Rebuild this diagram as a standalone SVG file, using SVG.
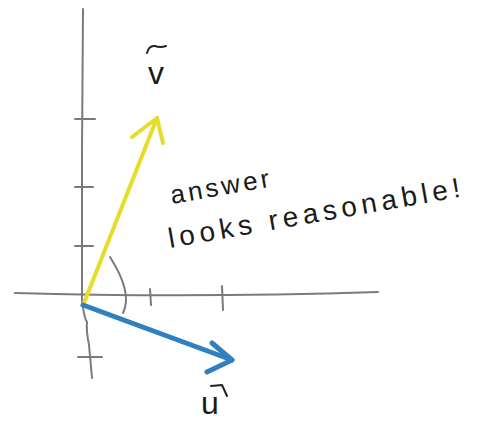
<svg xmlns="http://www.w3.org/2000/svg" width="482" height="423" viewBox="0 0 482 423">
  <style>
    .axis { fill: none; stroke: #7a7a7a; stroke-width: 2; stroke-linecap: round; stroke-linejoin: round; }
    .vecv { fill: none; stroke: #e6dc2a; stroke-width: 4; stroke-linecap: round; stroke-linejoin: round; }
    .vecu { fill: none; stroke: #2f7fc1; stroke-width: 5; stroke-linecap: round; stroke-linejoin: round; }
    .ink { fill: none; stroke: #222; stroke-width: 2; stroke-linecap: round; stroke-linejoin: round; }
    .hand { font-family: "Liberation Sans", Arial, sans-serif; fill: #1a1a1a; }
  </style>
  <rect width="482" height="423" fill="#ffffff"/>

  <g id="axes">
    <path class="axis" d="M83,9 L82,150 L82,300 Q84,318 87,322 Q86,330 89,345 L92,378"/>
    <path class="axis" d="M15,293 Q190,298 378,292"/>
    <path class="axis" d="M75,119 L95,119"/>
    <path class="axis" d="M75,187 L93,187"/>
    <path class="axis" d="M75,246 L93,246"/>
    <path class="axis" d="M78,357 L102,357"/>
    <path class="axis" d="M150,289 L151,305"/>
    <path class="axis" d="M222,286 L223,310"/>
  </g>

  <g id="angle-arc">
    <path class="axis" d="M110,257 Q133,293 123,313"/>
  </g>

  <g id="connectors">
    <g id="vector-v">
      <path class="vecv" d="M84,303 L157,118"/>
      <path class="vecv" d="M132,137 L157,118 L163,143"/>
    </g>
    <g id="vector-u">
      <path class="vecu" d="M83,305 L232,360"/>
      <path class="vecu" d="M212,343 L232,360 L207,372"/>
    </g>
  </g>

  <g id="label-v">
    <path class="ink" d="M147,53 Q149,45 155,46 Q160,48 166,46"/>
    <text class="hand" x="148" y="84" font-size="32">v</text>
  </g>

  <g id="label-u">
    <path class="ink" d="M211,386 L222,385 L227,396"/>
    <text class="hand" x="201" y="414" font-size="32">u</text>
  </g>

  <g id="note">
    <text class="hand" x="172" y="204" font-size="26" textLength="100" lengthAdjust="spacing" transform="rotate(-10 172 204)">answer</text>
    <text class="hand" x="170" y="248" font-size="28" textLength="296" lengthAdjust="spacing" transform="rotate(-10 170 248)">looks reasonable!</text>
  </g>
</svg>
